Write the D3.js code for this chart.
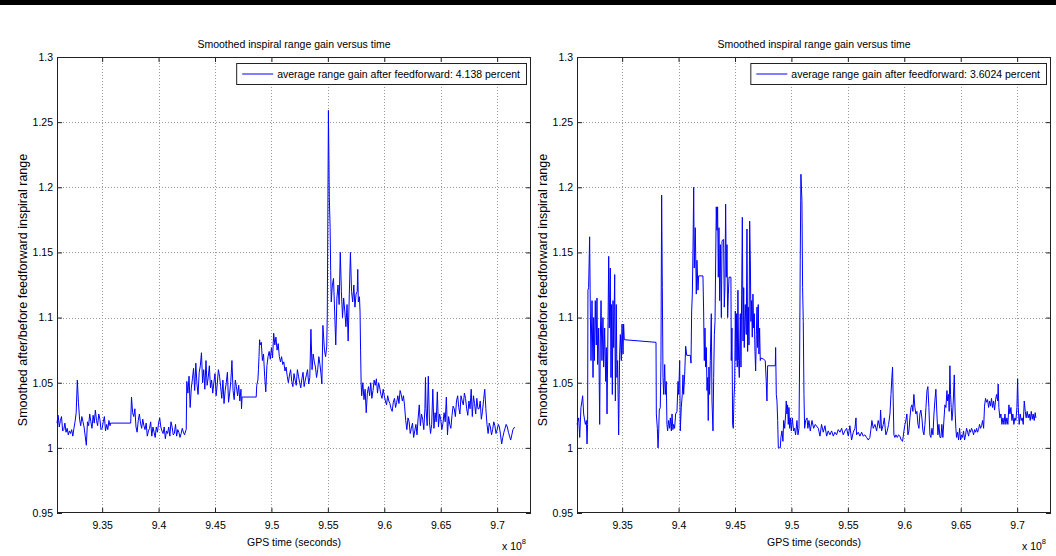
<!DOCTYPE html>
<html>
<head>
<meta charset="utf-8">
<script src="https://cdn.jsdelivr.net/npm/d3@7"></script>
<style>
  body { margin: 0; background: #fff; }
  svg { display: block; font-family: "Liberation Sans", Arial, Helvetica, sans-serif; }
</style>
</head>
<body>
<svg id="chart" width="1056" height="556"></svg>
<script>
// axis setup (GPS time in units of 1e8 s)
const xTicks = [9.35, 9.4, 9.45, 9.5, 9.55, 9.6, 9.65, 9.7];
const yTicks = [0.95, 1, 1.05, 1.1, 1.15, 1.2, 1.25, 1.3];
const xDomain = [9.31, 9.73];
const yDomain = [0.95, 1.3];

const chartTitle = 'Smoothed inspiral range gain versus time';
const xLabel = 'GPS time (seconds)';
const yLabel = 'Smoothed after/before feedforward inspiral range';
const legendLabels = [
  'average range gain after feedforward: 4.138 percent',
  'average range gain after feedforward: 3.6024 percent'
];

// [gps time / 1e8, smoothed gain] - left panel
const leftSeries = [
  [9.310,1.019],[9.311,1.025],[9.312,1.016],[9.313,1.021],[9.314,1.024],[9.315,1.013],[9.316,1.014],[9.317,1.019],
  [9.318,1.012],[9.319,1.015],[9.320,1.010],[9.321,1.013],[9.322,1.011],[9.323,1.014],[9.324,1.009],[9.325,1.015],
  [9.326,1.020],[9.327,1.027],[9.328,1.052],[9.329,1.035],[9.330,1.022],[9.331,1.017],[9.332,1.024],[9.333,1.020],
  [9.334,1.016],[9.335,1.009],[9.336,1.002],[9.337,1.020],[9.338,1.017],[9.339,1.026],[9.340,1.020],[9.341,1.015],
  [9.342,1.025],[9.343,1.019],[9.344,1.029],[9.345,1.021],[9.346,1.017],[9.347,1.026],[9.348,1.022],[9.349,1.014],
  [9.350,1.015],[9.351,1.020],[9.352,1.024],[9.353,1.013],[9.354,1.018],[9.355,1.014],[9.356,1.021],[9.357,1.017],
  [9.3575,1.019],[9.3753,1.019],[9.376,1.039],[9.377,1.027],[9.378,1.024],[9.379,1.030],[9.380,1.016],[9.381,1.012],
  [9.382,1.021],[9.383,1.026],[9.384,1.019],[9.385,1.015],[9.386,1.022],[9.387,1.017],[9.388,1.014],[9.389,1.019],
  [9.390,1.009],[9.391,1.013],[9.392,1.015],[9.393,1.020],[9.394,1.009],[9.395,1.016],[9.396,1.012],[9.397,1.008],
  [9.398,1.016],[9.399,1.012],[9.400,1.019],[9.401,1.023],[9.402,1.016],[9.403,1.013],[9.404,1.011],[9.405,1.016],
  [9.406,1.007],[9.407,1.013],[9.408,1.011],[9.409,1.016],[9.410,1.009],[9.411,1.020],[9.412,1.016],[9.413,1.010],
  [9.414,1.011],[9.415,1.018],[9.416,1.009],[9.417,1.014],[9.418,1.012],[9.419,1.008],[9.420,1.011],[9.421,1.015],
  [9.422,1.012],[9.423,1.010],[9.424,1.013],[9.4245,1.014],[9.425,1.051],[9.426,1.042],[9.427,1.055],[9.428,1.031],
  [9.429,1.046],[9.430,1.053],[9.431,1.061],[9.432,1.044],[9.433,1.065],[9.434,1.049],[9.435,1.041],[9.436,1.058],
  [9.437,1.063],[9.438,1.073],[9.439,1.050],[9.440,1.060],[9.441,1.045],[9.442,1.067],[9.443,1.048],[9.444,1.054],
  [9.445,1.063],[9.446,1.046],[9.447,1.052],[9.448,1.042],[9.449,1.050],[9.450,1.057],[9.451,1.040],[9.452,1.049],
  [9.453,1.060],[9.454,1.055],[9.455,1.047],[9.456,1.038],[9.457,1.052],[9.458,1.034],[9.459,1.044],[9.460,1.050],
  [9.461,1.058],[9.462,1.035],[9.463,1.042],[9.464,1.051],[9.465,1.067],[9.466,1.044],[9.467,1.037],[9.468,1.052],
  [9.469,1.047],[9.470,1.040],[9.471,1.048],[9.472,1.036],[9.473,1.045],[9.4735,1.030],[9.474,1.039],[9.4865,1.039],
  [9.487,1.048],[9.488,1.052],[9.4885,1.060],[9.489,1.070],[9.4895,1.083],[9.490,1.079],[9.491,1.081],[9.492,1.067],
  [9.493,1.072],[9.494,1.055],[9.495,1.043],[9.496,1.063],[9.497,1.070],[9.498,1.074],[9.499,1.068],[9.500,1.077],
  [9.501,1.069],[9.502,1.088],[9.503,1.079],[9.504,1.085],[9.505,1.075],[9.506,1.080],[9.507,1.070],[9.508,1.066],
  [9.509,1.070],[9.510,1.064],[9.511,1.066],[9.512,1.059],[9.513,1.062],[9.514,1.055],[9.515,1.050],[9.516,1.056],
  [9.517,1.060],[9.518,1.051],[9.519,1.047],[9.520,1.057],[9.521,1.052],[9.522,1.048],[9.523,1.060],[9.524,1.055],
  [9.525,1.050],[9.526,1.046],[9.527,1.053],[9.528,1.058],[9.529,1.047],[9.530,1.052],[9.531,1.056],[9.532,1.060],
  [9.533,1.049],[9.534,1.054],[9.535,1.091],[9.536,1.060],[9.537,1.072],[9.538,1.066],[9.539,1.062],[9.540,1.054],
  [9.541,1.060],[9.542,1.070],[9.543,1.064],[9.544,1.056],[9.5447,1.049],[9.5456,1.094],[9.547,1.075],[9.548,1.070],
  [9.549,1.078],[9.5495,1.102],[9.5505,1.259],[9.5513,1.192],[9.552,1.169],[9.5525,1.136],[9.553,1.112],[9.554,1.125],
  [9.555,1.130],[9.556,1.105],[9.557,1.079],[9.558,1.115],[9.559,1.125],[9.560,1.110],[9.561,1.150],[9.562,1.120],
  [9.563,1.100],[9.564,1.115],[9.565,1.105],[9.566,1.093],[9.567,1.110],[9.568,1.082],[9.569,1.118],[9.570,1.150],
  [9.571,1.120],[9.572,1.112],[9.573,1.125],[9.574,1.108],[9.575,1.118],[9.576,1.120],[9.5765,1.137],[9.577,1.112],
  [9.578,1.116],[9.5785,1.105],[9.579,1.075],[9.5795,1.049],[9.580,1.040],[9.581,1.050],[9.582,1.037],[9.583,1.045],
  [9.584,1.027],[9.585,1.042],[9.586,1.047],[9.587,1.040],[9.588,1.050],[9.589,1.038],[9.590,1.044],[9.591,1.052],
  [9.592,1.048],[9.593,1.053],[9.594,1.042],[9.595,1.050],[9.596,1.046],[9.597,1.041],[9.598,1.038],[9.599,1.045],
  [9.600,1.040],[9.601,1.036],[9.602,1.033],[9.603,1.040],[9.604,1.036],[9.605,1.034],[9.606,1.030],[9.607,1.028],
  [9.608,1.035],[9.609,1.038],[9.610,1.031],[9.611,1.035],[9.612,1.040],[9.613,1.034],[9.614,1.044],[9.615,1.041],
  [9.616,1.036],[9.617,1.040],[9.618,1.032],[9.619,1.021],[9.620,1.014],[9.621,1.023],[9.622,1.020],[9.623,1.011],
  [9.624,1.015],[9.625,1.019],[9.626,1.008],[9.627,1.013],[9.628,1.018],[9.629,1.010],[9.630,1.023],[9.631,1.033],
  [9.632,1.017],[9.633,1.026],[9.634,1.022],[9.635,1.014],[9.636,1.030],[9.6365,1.054],[9.637,1.030],[9.638,1.017],
  [9.639,1.055],[9.640,1.020],[9.641,1.011],[9.642,1.018],[9.643,1.045],[9.644,1.015],[9.645,1.027],[9.646,1.020],
  [9.647,1.043],[9.648,1.016],[9.649,1.026],[9.650,1.022],[9.651,1.014],[9.652,1.019],[9.653,1.027],[9.654,1.020],
  [9.655,1.039],[9.656,1.010],[9.657,1.024],[9.658,1.018],[9.659,1.015],[9.660,1.025],[9.661,1.032],[9.662,1.030],
  [9.663,1.024],[9.664,1.036],[9.665,1.040],[9.666,1.031],[9.667,1.026],[9.668,1.040],[9.669,1.036],[9.670,1.033],
  [9.671,1.042],[9.672,1.038],[9.673,1.030],[9.674,1.025],[9.675,1.036],[9.676,1.030],[9.677,1.045],[9.678,1.024],
  [9.679,1.040],[9.680,1.034],[9.681,1.026],[9.682,1.038],[9.683,1.030],[9.684,1.030],[9.685,1.036],[9.686,1.022],
  [9.687,1.028],[9.688,1.037],[9.689,1.045],[9.690,1.030],[9.691,1.018],[9.692,1.011],[9.693,1.019],[9.694,1.016],
  [9.695,1.010],[9.696,1.014],[9.697,1.020],[9.698,1.017],[9.699,1.011],[9.700,1.014],[9.701,1.018],[9.702,1.016],
  [9.703,1.010],[9.704,1.003],[9.705,1.008],[9.706,1.012],[9.707,1.015],[9.708,1.018],[9.709,1.016],[9.710,1.012],
  [9.711,1.009],[9.712,1.006],[9.713,1.010],[9.714,1.014],[9.7155,1.016]
];

// [gps time / 1e8, smoothed gain] - right panel
const rightSeries = [
  [9.3100,1.018],[9.3115,1.023],[9.3124,1.008],[9.3135,1.031],[9.3144,1.036],[9.3150,1.040],[9.3159,1.026],[9.3174,1.018],
  [9.3183,1.021],[9.3189,1.003],[9.3194,1.018],[9.3197,1.121],[9.3203,1.123],[9.3212,1.162],[9.3218,1.105],[9.3224,1.067],
  [9.3233,1.113],[9.3242,1.054],[9.3248,1.100],[9.3254,1.067],[9.3262,1.113],[9.3271,1.079],[9.3277,1.115],[9.3283,1.064],
  [9.3292,1.092],[9.3301,1.018],[9.3307,1.085],[9.3313,1.113],[9.3321,1.067],[9.3330,1.100],[9.3336,1.062],[9.3345,1.092],
  [9.3354,1.051],[9.3360,1.077],[9.3366,1.026],[9.3375,1.097],[9.3381,1.147],[9.3386,1.092],[9.3395,1.138],[9.3401,1.054],
  [9.3407,1.110],[9.3413,1.041],[9.3419,1.113],[9.3425,1.077],[9.3434,1.133],[9.3440,1.036],[9.3448,1.110],[9.3454,1.054],
  [9.3460,1.067],[9.3469,1.010],[9.3478,1.072],[9.3484,1.087],[9.3493,1.067],[9.3499,1.095],[9.3508,1.072],[9.3513,1.095],
  [9.3519,1.083],[9.3800,1.081],[9.3803,1.026],[9.3812,1.015],[9.3818,1.000],[9.3823,1.010],[9.3829,1.029],[9.3838,1.031],
  [9.3844,1.067],[9.3850,1.194],[9.3856,1.123],[9.3862,1.054],[9.3868,1.041],[9.3877,1.064],[9.3883,1.041],[9.3891,1.051],
  [9.3897,1.018],[9.3903,1.013],[9.3912,1.021],[9.3921,1.015],[9.3927,1.023],[9.3936,1.013],[9.3942,1.026],[9.3950,1.014],
  [9.3956,1.018],[9.3965,1.015],[9.3974,1.026],[9.3986,1.028],[9.3995,1.051],[9.4001,1.041],[9.4010,1.067],[9.4015,1.013],
  [9.4024,1.031],[9.4033,1.041],[9.4039,1.056],[9.4045,1.041],[9.4054,1.056],[9.4063,1.078],[9.4072,1.071],[9.4104,1.071],
  [9.4110,1.065],[9.4116,1.105],[9.4122,1.118],[9.4128,1.154],[9.4134,1.200],[9.4139,1.138],[9.4148,1.169],[9.4157,1.118],
  [9.4163,1.144],[9.4172,1.121],[9.4178,1.132],[9.4216,1.132],[9.4222,1.105],[9.4228,1.067],[9.4234,1.092],[9.4240,1.062],
  [9.4246,1.077],[9.4252,1.044],[9.4258,1.054],[9.4263,1.021],[9.4269,1.062],[9.4275,1.041],[9.4281,1.067],[9.4290,1.103],
  [9.4296,1.036],[9.4305,1.013],[9.4311,1.054],[9.4317,1.087],[9.4323,1.097],[9.4334,1.185],[9.4340,1.167],[9.4346,1.185],
  [9.4352,1.131],[9.4358,1.169],[9.4364,1.113],[9.4370,1.156],[9.4379,1.100],[9.4385,1.159],[9.4399,1.160],[9.4405,1.108],
  [9.4411,1.123],[9.4417,1.187],[9.4423,1.131],[9.4429,1.156],[9.4435,1.100],[9.4441,1.118],[9.4447,1.131],[9.4464,1.131],
  [9.4467,1.067],[9.4473,1.092],[9.4479,1.018],[9.4485,1.015],[9.4491,1.038],[9.4497,1.049],[9.4503,1.105],[9.4509,1.067],
  [9.4514,1.103],[9.4520,1.062],[9.4526,1.121],[9.4532,1.067],[9.4538,1.054],[9.4547,1.103],[9.4553,1.062],[9.4559,1.118],
  [9.4565,1.177],[9.4571,1.082],[9.4577,1.123],[9.4582,1.077],[9.4591,1.110],[9.4600,1.087],[9.4606,1.168],[9.4612,1.074],
  [9.4618,1.108],[9.4624,1.079],[9.4630,1.174],[9.4636,1.144],[9.4641,1.097],[9.4647,1.113],[9.4653,1.085],[9.4659,1.118],
  [9.4665,1.092],[9.4671,1.103],[9.4677,1.074],[9.4683,1.059],[9.4689,1.087],[9.4695,1.108],[9.4700,1.077],[9.4706,1.110],
  [9.4712,1.072],[9.4718,1.092],[9.4724,1.067],[9.4730,1.069],[9.4754,1.068],[9.4768,1.067],[9.4777,1.051],[9.4783,1.036],
  [9.4789,1.063],[9.4857,1.063],[9.4860,1.077],[9.4866,1.041],[9.4872,1.036],[9.4878,1.021],[9.4884,1.000],[9.4901,1.000],
  [9.4907,1.008],[9.4916,1.013],[9.4925,1.005],[9.4931,1.021],[9.4940,1.015],[9.4949,1.026],[9.4954,1.036],[9.4960,1.026],
  [9.4966,1.033],[9.4972,1.018],[9.4978,1.031],[9.4984,1.015],[9.4990,1.023],[9.4999,1.013],[9.5008,1.023],[9.5019,1.013],
  [9.5028,1.015],[9.5037,1.010],[9.5049,1.021],[9.5058,1.010],[9.5067,1.015],[9.5073,1.072],[9.5078,1.144],[9.5084,1.210],
  [9.5093,1.190],[9.5099,1.123],[9.5105,1.097],[9.5111,1.041],[9.5117,1.015],[9.5126,1.021],[9.5138,1.023],[9.5146,1.015],
  [9.5155,1.021],[9.5167,1.013],[9.5182,1.021],[9.5197,1.015],[9.5211,1.018],[9.5238,1.015],[9.5253,1.009],[9.5267,1.018],
  [9.5282,1.012],[9.5297,1.017],[9.5312,1.009],[9.5326,1.013],[9.5341,1.010],[9.5356,1.013],[9.5371,1.009],[9.5385,1.012],
  [9.5400,1.010],[9.5415,1.014],[9.5430,1.012],[9.5445,1.015],[9.5459,1.010],[9.5474,1.013],[9.5489,1.015],[9.5504,1.009],
  [9.5518,1.017],[9.5533,1.006],[9.5548,1.012],[9.5563,1.015],[9.5572,1.023],[9.5577,1.010],[9.5592,1.012],[9.5607,1.009],
  [9.5622,1.012],[9.5636,1.009],[9.5651,1.010],[9.5666,1.008],[9.5681,1.006],[9.5695,1.008],[9.5704,1.014],[9.5713,1.021],
  [9.5725,1.015],[9.5740,1.018],[9.5755,1.013],[9.5769,1.021],[9.5784,1.015],[9.5790,1.029],[9.5799,1.013],[9.5814,1.018],
  [9.5823,1.023],[9.5831,1.015],[9.5837,1.010],[9.5849,1.013],[9.5861,1.018],[9.5873,1.026],[9.5882,1.041],[9.5890,1.054],
  [9.5896,1.062],[9.5902,1.036],[9.5908,1.010],[9.5917,1.008],[9.5926,1.010],[9.5938,1.008],[9.5949,1.010],[9.5961,1.009],
  [9.5973,1.006],[9.5985,1.005],[9.5997,1.013],[9.6006,1.018],[9.6014,1.021],[9.6023,1.026],[9.6032,1.010],[9.6041,1.013],
  [9.6050,1.023],[9.6059,1.031],[9.6068,1.033],[9.6076,1.028],[9.6085,1.041],[9.6094,1.031],[9.6103,1.026],[9.6112,1.028],
  [9.6121,1.018],[9.6130,1.015],[9.6138,1.026],[9.6147,1.029],[9.6156,1.023],[9.6165,1.013],[9.6174,1.010],[9.6183,1.018],
  [9.6192,1.031],[9.6201,1.044],[9.6209,1.047],[9.6218,1.031],[9.6227,1.010],[9.6236,1.008],[9.6245,1.015],[9.6254,1.010],
  [9.6263,1.026],[9.6271,1.036],[9.6280,1.045],[9.6289,1.026],[9.6298,1.010],[9.6307,1.018],[9.6316,1.008],[9.6325,1.008],
  [9.6333,1.018],[9.6342,1.008],[9.6351,1.021],[9.6360,1.033],[9.6369,1.031],[9.6378,1.044],[9.6384,1.036],[9.6392,1.041],
  [9.6398,1.028],[9.6404,1.063],[9.6410,1.041],[9.6416,1.031],[9.6422,1.021],[9.6428,1.026],[9.6434,1.036],[9.6443,1.056],
  [9.6451,1.026],[9.6457,1.015],[9.6463,1.008],[9.6472,1.012],[9.6481,1.006],[9.6490,1.015],[9.6499,1.006],[9.6508,1.010],
  [9.6516,1.008],[9.6525,1.013],[9.6534,1.006],[9.6543,1.010],[9.6552,1.015],[9.6561,1.012],[9.6570,1.009],[9.6578,1.014],
  [9.6587,1.012],[9.6596,1.015],[9.6605,1.013],[9.6614,1.010],[9.6623,1.014],[9.6632,1.012],[9.6641,1.015],[9.6649,1.012],
  [9.6658,1.014],[9.6667,1.018],[9.6676,1.015],[9.6685,1.017],[9.6694,1.021],[9.6703,1.015],[9.6711,1.032],[9.6720,1.038],
  [9.6729,1.035],[9.6738,1.037],[9.6747,1.031],[9.6756,1.036],[9.6765,1.032],[9.6773,1.038],[9.6782,1.031],[9.6791,1.036],
  [9.6800,1.029],[9.6809,1.037],[9.6818,1.041],[9.6827,1.036],[9.6832,1.049],[9.6838,1.031],[9.6847,1.023],[9.6856,1.026],
  [9.6865,1.018],[9.6874,1.023],[9.6883,1.018],[9.6892,1.026],[9.6900,1.018],[9.6909,1.023],[9.6918,1.018],[9.6927,1.033],
  [9.6936,1.026],[9.6945,1.031],[9.6954,1.021],[9.6962,1.026],[9.6971,1.018],[9.6980,1.023],[9.6989,1.021],[9.6998,1.031],
  [9.7004,1.053],[9.7010,1.031],[9.7018,1.018],[9.7027,1.026],[9.7036,1.021],[9.7045,1.023],[9.7054,1.018],[9.7063,1.036],
  [9.7072,1.028],[9.7080,1.023],[9.7089,1.028],[9.7098,1.023],[9.7107,1.026],[9.7116,1.021],[9.7125,1.028],[9.7134,1.022],
  [9.7142,1.026],[9.7151,1.021],[9.7160,1.027],[9.7166,1.023]
];

const svg = d3.select('#chart');
const fontSize = 10.5;

// black strip along the top edge of the screenshot
svg.append('rect').attr('x', 0).attr('y', 0).attr('width', 1056).attr('height', 5).attr('fill', '#000');

const panels = [
  { left: 57, right: 531, top: 57, bottom: 513, data: leftSeries, legend: legendLabels[0] },
  { left: 577, right: 1051, top: 57, bottom: 513, data: rightSeries, legend: legendLabels[1] }
];

function drawPanel(p) {
  const x = d3.scaleLinear().domain(xDomain).range([p.left, p.right]);
  const y = d3.scaleLinear().domain(yDomain).range([p.bottom, p.top]);
  const g = svg.append('g');

  // dotted grid
  g.selectAll('.vgrid')
    .data(xTicks)
    .enter()
    .append('line')
    .attr('x1', (d) => Math.round(x(d)) + 0.5)
    .attr('x2', (d) => Math.round(x(d)) + 0.5)
    .attr('y1', p.top)
    .attr('y2', p.bottom)
    .attr('stroke', '#9a9a9a')
    .attr('stroke-dasharray', '1,2');
  g.selectAll('.hgrid')
    .data(yTicks.slice(1, -1))
    .enter()
    .append('line')
    .attr('x1', p.left)
    .attr('x2', p.right)
    .attr('y1', (d) => Math.round(y(d)) + 0.5)
    .attr('y2', (d) => Math.round(y(d)) + 0.5)
    .attr('stroke', '#9a9a9a')
    .attr('stroke-dasharray', '1,2');

  // data line
  const line = d3.line().x((d) => x(d[0])).y((d) => y(d[1]));
  g.append('path')
    .datum(p.data)
    .attr('d', line)
    .attr('fill', 'none')
    .attr('stroke', '#0000ff')
    .attr('stroke-width', 1)
    .attr('stroke-linejoin', 'round');

  // axes with inward ticks on all four sides
  const styleAxis = (sel) => {
    sel.select('.domain').remove();
    sel.selectAll('line').attr('stroke', '#222');
    sel.selectAll('text').attr('font-size', fontSize).attr('fill', '#000')
      .attr('font-family', '"Liberation Sans", Arial, Helvetica, sans-serif');
  };
  g.append('g')
    .attr('transform', `translate(0,${p.bottom})`)
    .call(d3.axisBottom(x).tickValues(xTicks).tickFormat((d) => String(d)).tickSizeInner(-5).tickSizeOuter(0).tickPadding(9))
    .call(styleAxis);
  g.append('g')
    .attr('transform', `translate(0,${p.top})`)
    .call(d3.axisTop(x).tickValues(xTicks).tickFormat('').tickSizeInner(-5).tickSizeOuter(0))
    .call(styleAxis);
  g.append('g')
    .attr('transform', `translate(${p.left},0)`)
    .call(d3.axisLeft(y).tickValues(yTicks).tickFormat((d) => String(d)).tickSizeInner(-5).tickSizeOuter(0).tickPadding(4))
    .call(styleAxis);
  g.append('g')
    .attr('transform', `translate(${p.right},0)`)
    .call(d3.axisRight(y).tickValues(yTicks).tickFormat('').tickSizeInner(-5).tickSizeOuter(0))
    .call(styleAxis);

  // axes box
  g.append('rect')
    .attr('x', p.left + 0.5)
    .attr('y', p.top + 0.5)
    .attr('width', p.right - p.left - 1)
    .attr('height', p.bottom - p.top - 1)
    .attr('fill', 'none')
    .attr('stroke', '#222');

  // legend, anchored to the top right corner
  const lg = g.append('g');
  const boxRight = p.right - 5;
  const label = lg.append('text')
    .attr('font-size', fontSize)
    .attr('y', p.top + 20.5)
    .text(p.legend);
  const tw = label.node().getComputedTextLength();
  const textX = boxRight - 6 - tw;
  label.attr('x', textX);
  lg.insert('rect', 'text')
    .attr('x', textX - 41 + 0.5)
    .attr('y', p.top + 6.5)
    .attr('width', tw + 47)
    .attr('height', 21)
    .attr('fill', '#fff')
    .attr('stroke', '#222');
  lg.append('line')
    .attr('x1', textX - 35)
    .attr('x2', textX - 4)
    .attr('y1', p.top + 17)
    .attr('y2', p.top + 17)
    .attr('stroke', '#0000ff')
    .attr('stroke-width', 1);

  const cx = (p.left + p.right) / 2;
  g.append('text')
    .attr('x', cx)
    .attr('y', 48)
    .attr('text-anchor', 'middle')
    .attr('font-size', fontSize)
    .text(chartTitle);
  g.append('text')
    .attr('x', cx)
    .attr('y', 546)
    .attr('text-anchor', 'middle')
    .attr('font-size', fontSize)
    .text(xLabel);
  g.append('text')
    .attr('transform', `translate(${p.left - 30},290) rotate(-90)`)
    .attr('text-anchor', 'middle')
    .attr('font-size', 12.5)
    .text(yLabel);

  // exponent note under the axis
  const ex = g.append('text')
    .attr('x', p.right - 29)
    .attr('y', 550)
    .attr('font-size', fontSize);
  ex.append('tspan').text('x 10');
  ex.append('tspan').attr('dy', -6).attr('font-size', 7.5).text('8');
}

panels.forEach(drawPanel);
</script>
</body>
</html>
